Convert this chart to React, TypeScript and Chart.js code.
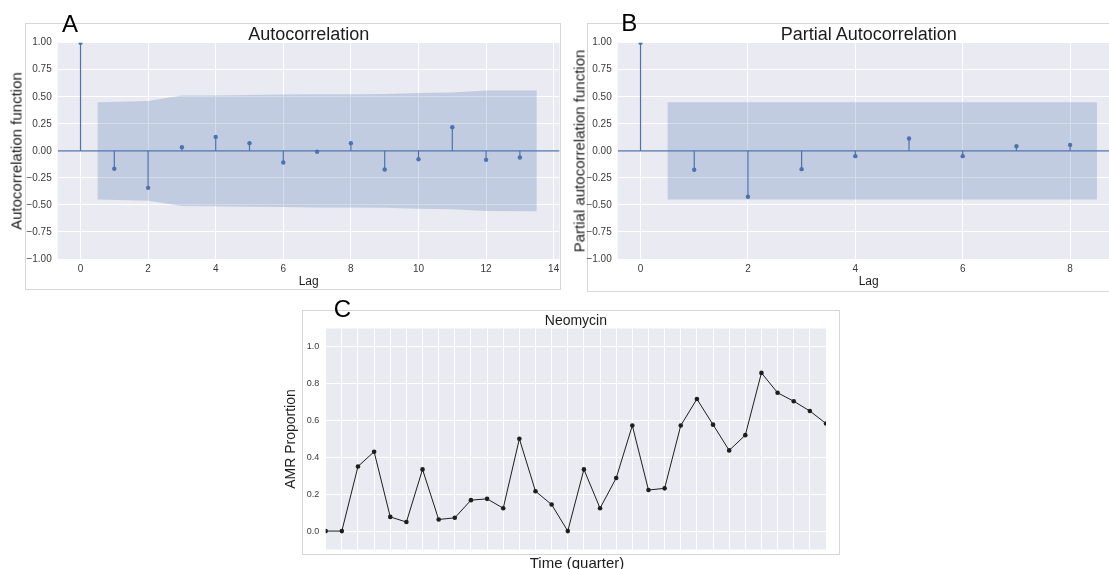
import React, { useEffect, useRef } from "react";
import { Chart, registerables } from "chart.js";

Chart.register(...registerables);

// ---------------- Data ----------------
const ACF_LAGS = [0, 1, 2, 3, 4, 5, 6, 7, 8, 9, 10, 11, 12, 13];
const ACF_VALUES = [1.0, -0.166, -0.342, 0.034, 0.129, 0.071, -0.108, -0.009, 0.071, -0.172, -0.077, 0.218, -0.083, -0.062];
const ACF_BAND_X = [0.5, 2, 3, 4, 5, 6, 7, 8, 9, 10, 11, 12, 13.5];
const ACF_BAND_UPPER = [0.449, 0.462, 0.511, 0.512, 0.517, 0.52, 0.524, 0.524, 0.526, 0.536, 0.539, 0.557, 0.559];
const ACF_BAND_LOWER = [-0.449, -0.462, -0.511, -0.512, -0.517, -0.52, -0.524, -0.524, -0.526, -0.536, -0.539, -0.557, -0.559];
const ACF_X_TICKS = [0, 2, 4, 6, 8, 10, 12, 14];
const CORR_Y_TICKS = [-1, -0.75, -0.5, -0.25, 0, 0.25, 0.5, 0.75, 1];

const PACF_LAGS = [0, 1, 2, 3, 4, 5, 6, 7, 8];
const PACF_VALUES = [1.0, -0.175, -0.425, -0.169, -0.049, 0.114, -0.049, 0.043, 0.055];
const PACF_BAND_X = [0.5, 2, 3, 4, 5, 6, 7, 8.5];
const PACF_BAND_UPPER = [0.449, 0.449, 0.449, 0.449, 0.449, 0.449, 0.449, 0.449];
const PACF_BAND_LOWER = [-0.449, -0.449, -0.449, -0.449, -0.449, -0.449, -0.449, -0.449];
const PACF_X_TICKS = [0, 2, 4, 6, 8];

const QUARTERS = [0, 1, 2, 3, 4, 5, 6, 7, 8, 9, 10, 11, 12, 13, 14, 15, 16, 17, 18, 19, 20, 21, 22, 23, 24, 25, 26, 27, 28, 29, 30, 31];
const NEOMYCIN = [0.0, 0.0, 0.351, 0.431, 0.077, 0.049, 0.335, 0.063, 0.072, 0.168, 0.175, 0.124, 0.501, 0.216, 0.144, 0.0, 0.335, 0.124, 0.288, 0.573, 0.223, 0.232, 0.573, 0.717, 0.578, 0.438, 0.521, 0.859, 0.751, 0.705, 0.652, 0.584];
const AMR_Y_TICKS = [0, 0.2, 0.4, 0.6, 0.8, 1.0];

// ---------------- Styling ----------------
const FONT = "'Liberation Sans', Arial, Helvetica, sans-serif";
const BLUE = "#4C72B0";
const BAND = "rgba(76,114,176,0.25)";
const PLOT_BG = "#EAEAF2";
const TICK_COLOR = "#3a3a3a";
const TEXT_COLOR = "#1c1c1c";

Chart.defaults.font.family = FONT;

const bgPlugin = {
  id: "plotBg",
  beforeDraw(chart: any) {
    const { ctx, chartArea: a } = chart;
    ctx.save();
    ctx.fillStyle = PLOT_BG;
    ctx.fillRect(a.left, a.top, a.right - a.left, a.bottom - a.top);
    ctx.restore();
  },
};

type Rect = { left: number; top: number; width: number; height: number };
type Area = { left: number; top: number; right: number; bottom: number };

type PanelProps = {
  canvas: Rect;
  area: Area;
  xMin: number;
  xMax: number;
  yMin: number;
  yMax: number;
  xTicks: number[];
  yTicks: number[];
  showXLabels: boolean;
  tickSize: number;
  yPad: number;
  yFmt: (v: number) => string;
  datasets: any[];
};

function Panel(p: PanelProps) {
  const ref = useRef<HTMLCanvasElement | null>(null);
  useEffect(() => {
    if (!ref.current) return;
    const { canvas, area } = p;
    const chart = new Chart(ref.current, {
      type: "line",
      data: { datasets: p.datasets },
      plugins: [bgPlugin],
      options: {
        responsive: false,
        animation: false,
        devicePixelRatio: 1,
        events: [],
        layout: {
          padding: {
            left: 0,
            top: area.top - canvas.top,
            right: canvas.left + canvas.width - area.right,
            bottom: 0,
          },
        },
        plugins: {
          legend: { display: false },
          tooltip: { enabled: false },
          title: { display: false },
        },
        scales: {
          x: {
            type: "linear",
            min: p.xMin,
            max: p.xMax,
            afterFit: (s: any) => {
              s.height = canvas.top + canvas.height - area.bottom;
            },
            afterBuildTicks: (s: any) => {
              s.ticks = p.xTicks.map((v) => ({ value: v }));
            },
            grid: { color: "#ffffff", lineWidth: 1, drawTicks: false },
            border: { display: false },
            ticks: {
              display: p.showXLabels,
              padding: 4,
              color: TICK_COLOR,
              font: { size: p.tickSize, family: FONT },
              maxRotation: 0,
              autoSkip: false,
              callback: (v: any) => String(v),
            },
          },
          y: {
            type: "linear",
            min: p.yMin,
            max: p.yMax,
            afterFit: (s: any) => {
              s.width = area.left - canvas.left;
            },
            afterBuildTicks: (s: any) => {
              s.ticks = p.yTicks.map((v) => ({ value: v }));
            },
            grid: { color: "#ffffff", lineWidth: 1, drawTicks: false },
            border: { display: false },
            ticks: {
              padding: p.yPad,
              color: TICK_COLOR,
              font: { size: p.tickSize, family: FONT },
              autoSkip: false,
              callback: (v: any) => p.yFmt(Number(v)),
            },
          },
        },
      } as any,
    });
    return () => chart.destroy();
  }, []);
  return (
    <canvas
      ref={ref}
      width={p.canvas.width}
      height={p.canvas.height}
      style={{
        position: "absolute",
        left: p.canvas.left,
        top: p.canvas.top,
        width: p.canvas.width,
        height: p.canvas.height,
      }}
    />
  );
}

const fmtCorr = (v: number) => (v < 0 ? "\u2212" : "") + Math.abs(v).toFixed(2);
const fmtAmr = (v: number) => (v < 0 ? "\u2212" : "") + Math.abs(v).toFixed(1);

function corrDatasets(lags: number[], vals: number[], bx: number[], bu: number[], bl: number[], xMin: number, xMax: number) {
  const stems: any[] = [];
  lags.forEach((l, i) => {
    stems.push({ x: l, y: 0 }, { x: l, y: vals[i] }, { x: l, y: null });
  });
  return [
    {
      label: "markers",
      data: lags.map((l, i) => ({ x: l, y: vals[i] })),
      showLine: false,
      pointRadius: 2.2,
      pointBackgroundColor: BLUE,
      pointBorderWidth: 0,
      clip: 0,
      order: 0,
    },
    {
      label: "stems",
      data: stems,
      borderColor: BLUE,
      borderWidth: 1.2,
      pointRadius: 0,
      spanGaps: false,
      clip: 0,
      order: 1,
    },
    {
      label: "zero",
      data: [
        { x: xMin, y: 0 },
        { x: xMax, y: 0 },
      ],
      borderColor: BLUE,
      borderWidth: 1.2,
      pointRadius: 0,
      order: 2,
    },
    {
      label: "band upper",
      data: bx.map((x, i) => ({ x, y: bu[i] })),
      borderWidth: 0,
      borderColor: "rgba(0,0,0,0)",
      backgroundColor: BAND,
      pointRadius: 0,
      fill: "+1",
      order: 3,
    },
    {
      label: "band lower",
      data: bx.map((x, i) => ({ x, y: bl[i] })),
      borderWidth: 0,
      borderColor: "rgba(0,0,0,0)",
      pointRadius: 0,
      fill: false,
      order: 4,
    },
  ];
}

function Label(props: { text: string; x: number; y: number; size: number; rotate?: boolean; color?: string }) {
  return (
    <div
      style={{
        position: "absolute",
        left: props.x,
        top: props.y,
        transform: `translate(-50%, -50%)${props.rotate ? " rotate(-90deg)" : ""}`,
        fontSize: props.size,
        lineHeight: 1,
        whiteSpace: "nowrap",
        color: props.color || TEXT_COLOR,
        fontFamily: FONT,
      }}
    >
      {props.text}
    </div>
  );
}

function Letter(props: { text: string; x: number; y: number }) {
  return (
    <div
      style={{
        position: "absolute",
        left: props.x,
        top: props.y,
        fontSize: 24,
        lineHeight: 1,
        color: "#000",
        fontFamily: FONT,
      }}
    >
      {props.text}
    </div>
  );
}

function Frame(props: { left: number; top: number; width: number; height: number }) {
  return (
    <div
      style={{
        position: "absolute",
        left: props.left,
        top: props.top,
        width: props.width,
        height: props.height,
        border: "1px solid #d6d6d6",
        boxSizing: "border-box",
      }}
    />
  );
}

export default function App() {
  const aX = { min: -0.675, max: 14.175 };
  const bX = { min: -0.425, max: 8.925 };
  return (
    <div
      style={{
        position: "absolute",
        left: 0,
        top: 0,
        width: 1109,
        height: 569,
        overflow: "hidden",
        background: "#ffffff",
        fontFamily: FONT,
      }}
    >
      <Frame left={25} top={23} width={536} height={267} />
      <Frame left={587} top={23} width={600} height={269} />
      <Frame left={302} top={310} width={538} height={245} />

      <Panel
        canvas={{ left: 0, top: 0, width: 565, height: 292 }}
        area={{ left: 57.7, top: 42.7, right: 559.6, bottom: 259 }}
        xMin={aX.min}
        xMax={aX.max}
        yMin={-1}
        yMax={1}
        xTicks={ACF_X_TICKS}
        yTicks={CORR_Y_TICKS}
        showXLabels={true}
        tickSize={10}
        yPad={6}
        yFmt={fmtCorr}
        datasets={corrDatasets(ACF_LAGS, ACF_VALUES, ACF_BAND_X, ACF_BAND_UPPER, ACF_BAND_LOWER, aX.min, aX.max)}
      />
      <Panel
        canvas={{ left: 566, top: 0, width: 560, height: 292 }}
        area={{ left: 617.7, top: 42.7, right: 1119.8, bottom: 259 }}
        xMin={bX.min}
        xMax={bX.max}
        yMin={-1}
        yMax={1}
        xTicks={PACF_X_TICKS}
        yTicks={CORR_Y_TICKS}
        showXLabels={true}
        tickSize={10}
        yPad={6}
        yFmt={fmtCorr}
        datasets={corrDatasets(PACF_LAGS, PACF_VALUES, PACF_BAND_X, PACF_BAND_UPPER, PACF_BAND_LOWER, bX.min, bX.max)}
      />
      <Panel
        canvas={{ left: 290, top: 300, width: 550, height: 269 }}
        area={{ left: 325.7, top: 328.5, right: 826, bottom: 549.5 }}
        xMin={0}
        xMax={31}
        yMin={-0.1}
        yMax={1.1}
        xTicks={QUARTERS}
        yTicks={AMR_Y_TICKS}
        showXLabels={false}
        tickSize={9}
        yPad={6.5}
        yFmt={fmtAmr}
        datasets={[
          {
            label: "Neomycin",
            data: QUARTERS.map((q, i) => ({ x: q, y: NEOMYCIN[i] })),
            borderColor: "#1e1e1e",
            borderWidth: 1,
            pointRadius: 2.3,
            pointBackgroundColor: "#1e1e1e",
            pointBorderWidth: 0,
            clip: 0,
          },
        ]}
      />

      <Label text="Autocorrelation" x={308.7} y={33.8} size={18} />
      <Label text="Partial Autocorrelation" x={868.7} y={33.8} size={18} />
      <Label text="Neomycin" x={575.9} y={319.5} size={14} />

      <Label text="Autocorrelation function" x={16} y={151} size={15} rotate />
      <Label text="Partial autocorrelation function" x={578.6} y={151} size={15} rotate />
      <Label text="AMR Proportion" x={289.5} y={439} size={14} rotate />

      <Label text="Lag" x={308.7} y={280.8} size={12} />
      <Label text="Lag" x={868.7} y={280.8} size={12} />
      <Label text="Time (quarter)" x={577} y={562} size={15} />

      <Letter text="A" x={62} y={12} />
      <Letter text="B" x={621.3} y={11.4} />
      <Letter text="C" x={333.8} y={297.4} />
    </div>
  );
}
